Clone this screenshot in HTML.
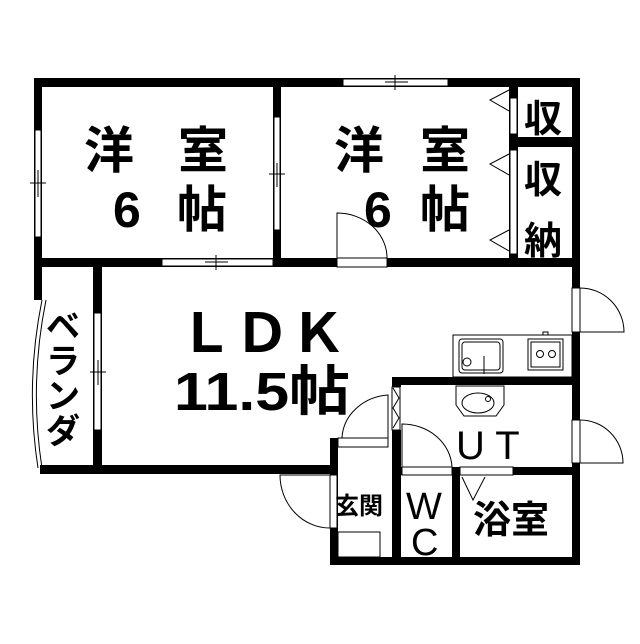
<!DOCTYPE html>
<html><head><meta charset="utf-8"><style>
html,body{margin:0;padding:0;background:#fff}
svg text{font-family:"Liberation Sans","Noto Sans CJK JP",sans-serif;fill:#000}
</style></head><body>
<svg width="640" height="639" viewBox="0 0 640 639" xmlns="http://www.w3.org/2000/svg">
<rect width="640" height="639" fill="#fff"/>
<g fill="#000">
<rect x="34" y="78" width="546" height="9"/>
<rect x="34" y="78" width="8" height="222"/>
<rect x="273" y="78" width="8" height="189"/>
<rect x="34" y="258" width="546" height="9"/>
<rect x="509" y="87" width="9" height="171"/>
<rect x="509" y="137" width="71" height="10"/>
<rect x="572" y="78" width="8" height="487"/>
<rect x="93" y="262" width="9" height="210"/>
<rect x="40" y="465" width="298" height="9"/>
<rect x="392" y="377" width="188" height="8"/>
<rect x="392" y="377" width="9" height="10"/>
<rect x="392" y="430" width="9" height="135"/>
<rect x="330" y="438" width="8" height="127"/>
<rect x="392" y="467" width="188" height="8"/>
<rect x="452" y="467" width="8" height="98"/>
<rect x="330" y="557" width="250" height="8"/>
</g>
<g fill="#fff" stroke="#000" stroke-width="1">
<rect x="35" y="130" width="6" height="107"/>
<rect x="274" y="117" width="6" height="113"/>
<rect x="162" y="259" width="111" height="7"/>
<rect x="343" y="79" width="105" height="7"/>
<rect x="94" y="313" width="7" height="117"/>
<rect x="337" y="258" width="50" height="9"/>
<rect x="510" y="98" width="7" height="36"/>
<rect x="510" y="150" width="7" height="104"/>
<rect x="572" y="288" width="8" height="44"/>
<rect x="572" y="420" width="8" height="43"/>
<rect x="338" y="438" width="50" height="9"/>
<rect x="402" y="467" width="50" height="8"/>
<rect x="460" y="467" width="53" height="8"/>
<rect x="330" y="475" width="7" height="53"/>
<rect x="392" y="387" width="8" height="43"/>
</g>
<g fill="none" stroke="#000" stroke-width="1">
<line x1="30" y1="183" x2="46" y2="183"/><line x1="38" y1="170" x2="38" y2="197"/>
<line x1="269" y1="174" x2="285" y2="174"/><line x1="277" y1="163" x2="277" y2="187"/>
<line x1="216" y1="255" x2="216" y2="270"/><line x1="205" y1="262" x2="228" y2="262"/>
<line x1="395" y1="75" x2="395" y2="90"/><line x1="385" y1="82" x2="408" y2="82"/>
<line x1="90" y1="372" x2="106" y2="372"/><line x1="98" y1="360" x2="98" y2="385"/>
<path d="M337 258 V213 A50 45 0 0 1 387 258"/>
<path d="M509 90 L490 100 L509 111"/>
<path d="M509 154 L490 164 L509 175"/>
<path d="M509 230 L490 240 L509 251"/>
<path d="M580 288 A44 44 0 0 1 624 332 H580"/>
<path d="M580 420 A43 43 0 0 1 623 463 H580"/>
<path d="M42 300 Q25 384 38 468"/><path d="M46 300 Q29 384 42 468"/>
<path d="M388 438 V395 A50 45 0 0 0 342 438"/>
<path d="M330 528 A50 53 0 0 1 280 475 H330"/>
<path d="M402 467 V424 A50 45 0 0 1 452 467"/>
<path d="M393 388 L399 398 L393 408 L399 418 L393 428"/>
<path d="M462 477 L473 500 L485 477"/>
<rect x="338" y="532" width="42" height="25"/>
<rect x="453" y="335" width="119" height="42"/>
<rect x="459" y="339" width="44" height="34" rx="3"/>
<rect x="462" y="342" width="38" height="28" rx="3"/>
<circle cx="467" cy="362" r="4"/>
<line x1="484" y1="356" x2="484" y2="374"/>
<rect x="528" y="339" width="35" height="31"/>
<rect x="531" y="342" width="29" height="25"/>
<circle cx="540" cy="354" r="3.5"/><circle cx="552" cy="354" r="3.5"/>
<rect x="543" y="332" width="5" height="3"/>
<path d="M456 386 H504 V405 L496 416 H464 L456 405 Z"/>
<ellipse cx="478" cy="403" rx="16" ry="10"/>
<circle cx="488" cy="399" r="2.5"/>
</g>
<g font-weight="bold">
<text x="84" y="168" font-size="50">洋</text>
<text x="178" y="168" font-size="50">室</text>
<text x="113" y="227" font-size="50">6</text>
<text x="177" y="227" font-size="50">帖</text>
<text x="334" y="168" font-size="50">洋</text>
<text x="420" y="168" font-size="50">室</text>
<text x="364" y="227" font-size="50">6</text>
<text x="420" y="227" font-size="50">帖</text>
<text x="178" y="352" font-size="54" textLength="168" lengthAdjust="spacingAndGlyphs">ＬＤＫ</text>
<text x="174" y="410" font-size="54" textLength="176" lengthAdjust="spacingAndGlyphs">11.5帖</text>
<text x="524" y="132" font-size="38">収</text>
<text x="524" y="193" font-size="38">収</text>
<text x="524" y="254" font-size="38">納</text>
<text x="456" y="459" font-size="40" font-weight="normal">U T</text>
<text x="473" y="533" font-size="38">浴室</text>
<text x="406" y="519" font-size="38" font-weight="normal">W</text>
<text x="411" y="555" font-size="38" font-weight="normal">C</text>
<text x="335" y="514" font-size="24">玄関</text>
<text x="46" y="338" font-size="34">ベ</text>
<text x="46" y="373" font-size="34">ラ</text>
<text x="46" y="408" font-size="34">ン</text>
<text x="46" y="443" font-size="34">ダ</text>
</g>
</svg>
</body></html>
